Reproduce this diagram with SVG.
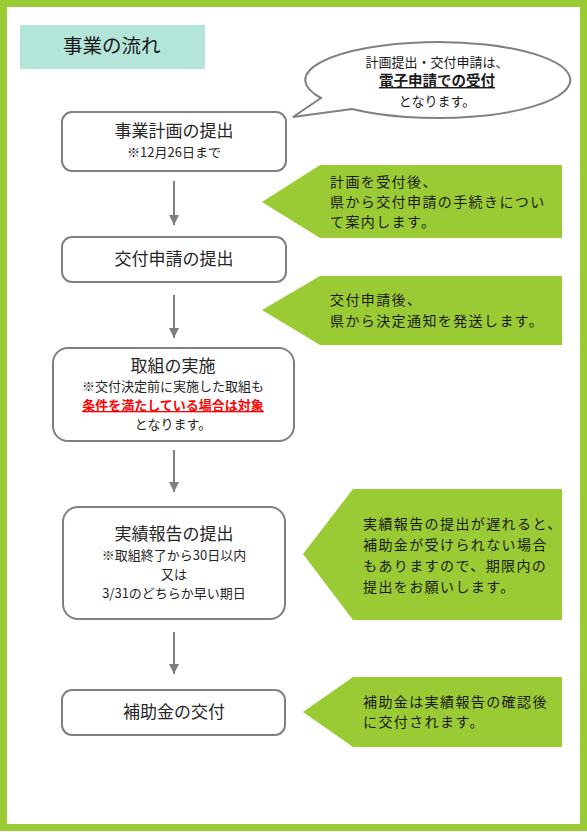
<svg xmlns="http://www.w3.org/2000/svg" width="587" height="832" viewBox="0 0 587 832">
<defs>
<style>
.jp{font-family:"Noto Sans CJK JP","Noto Sans",sans-serif;}
.node{fill:#fff;stroke:#808080;stroke-width:2;}
.nt{font-size:17px;fill:#262626;text-anchor:middle;}
.ns{font-size:13px;fill:#262626;text-anchor:middle;}
.ct{font-size:14px;fill:#1a1a1a;letter-spacing:1.4px;}
.green{fill:#9acb34;}
.conn{stroke:#7f7f7f;stroke-width:2;fill:none;}
</style>
<marker id="ah" markerUnits="userSpaceOnUse" markerWidth="10" markerHeight="10" refX="10" refY="5" orient="auto" viewBox="0 0 10 10">
<path d="M0,0 L10,5 L0,10 Z" fill="#7f7f7f"/>
</marker>
</defs>
<rect x="0" y="0" width="587" height="832" fill="#fff"/>
<rect x="3.5" y="3.5" width="580" height="824" fill="none" stroke="#9acb34" stroke-width="7"/>

<g id="title">
<rect x="20" y="25" width="185" height="44" fill="#b3e5d9"/>
<text class="jp" x="63" y="53" font-size="19.5" fill="#1a1a1a">事業の流れ</text>
</g>

<g id="bubble">
<path d="M 321 98 L 293 117 L 352 109 A 132.5 38 0 1 0 321 98 Z" fill="#fff" stroke="#808080" stroke-width="2"/>
<text class="jp" x="437" y="67" font-size="13px" fill="#1a1a1a" text-anchor="middle">計画提出・交付申請は、</text>
<text class="jp" x="437" y="86" font-size="14.5px" font-weight="bold" fill="#1a1a1a" text-anchor="middle" text-decoration="underline">電子申請での受付</text>
<text class="jp" x="437" y="106" font-size="13px" fill="#1a1a1a" text-anchor="middle">となります。</text>
</g>

<g id="n1">
<rect class="node" x="62" y="112" width="224" height="59" rx="10"/>
<text class="jp nt" x="174" y="137">事業計画の提出</text>
<text class="jp ns" x="174" y="157">※12月26日まで</text>
</g>

<g id="n2">
<rect class="node" x="62" y="237" width="224" height="45" rx="10"/>
<text class="jp nt" x="174" y="265">交付申請の提出</text>
</g>

<g id="n3">
<rect class="node" x="53" y="348" width="241" height="93" rx="15"/>
<text class="jp nt" x="173" y="372">取組の実施</text>
<text class="jp ns" x="173" y="391">※交付決定前に実施した取組も</text>
<text class="jp ns" x="173" y="410" font-weight="bold" style="fill:#ff0000" text-decoration="underline">条件を満たしている場合は対象</text>
<text class="jp ns" x="173" y="429">となります。</text>
</g>

<g id="n4">
<rect class="node" x="63" y="507" width="222" height="112" rx="15"/>
<text class="jp nt" x="174" y="540">実績報告の提出</text>
<text class="jp ns" x="174" y="560">※取組終了から30日以内</text>
<text class="jp ns" x="174" y="579">又は</text>
<text class="jp ns" x="174" y="598">3/31のどちらか早い期日</text>
</g>

<g id="n5">
<rect class="node" x="62" y="690" width="223" height="45" rx="10"/>
<text class="jp nt" x="174" y="718">補助金の交付</text>
</g>

<g id="c1">
<polygon class="green" points="262,202 320,165 562,165 562,238 320,238"/>
<text class="jp ct" x="330" y="187">計画を受付後、</text>
<text class="jp ct" x="330" y="207">県から交付申請の手続きについ</text>
<text class="jp ct" x="330" y="227">て案内します。</text>
</g>

<g id="c2">
<polygon class="green" points="262,310 320,276 562,276 562,345 320,345"/>
<text class="jp ct" x="330" y="305">交付申請後、</text>
<text class="jp ct" x="330" y="326">県から決定通知を発送します。</text>
</g>

<g id="c3">
<polygon class="green" points="303,554 353,489 562,489 562,620 353,620"/>
<text class="jp ct" x="363" y="529">実績報告の提出が遅れると、</text>
<text class="jp ct" x="363" y="550">補助金が受けられない場合</text>
<text class="jp ct" x="363" y="571">もありますので、期限内の</text>
<text class="jp ct" x="363" y="592">提出をお願いします。</text>
</g>

<g id="c4">
<polygon class="green" points="303,712 353,677 562,677 562,747 353,747"/>
<text class="jp ct" x="363" y="707">補助金は実績報告の確認後</text>
<text class="jp ct" x="363" y="727">に交付されます。</text>
</g>

<g id="connectors">
<line class="conn" x1="174" y1="181" x2="174" y2="225" marker-end="url(#ah)"/>
<line class="conn" x1="174" y1="295" x2="174" y2="338" marker-end="url(#ah)"/>
<line class="conn" x1="174" y1="450" x2="174" y2="492" marker-end="url(#ah)"/>
<line class="conn" x1="174" y1="632" x2="174" y2="674" marker-end="url(#ah)"/>
</g>
</svg>
